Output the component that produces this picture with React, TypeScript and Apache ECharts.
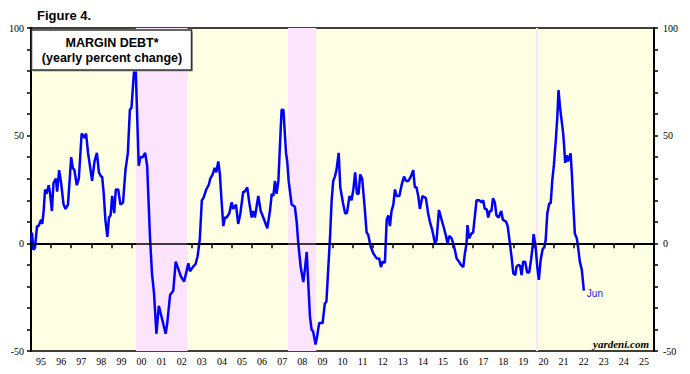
import React, { useEffect, useRef } from "react";
import * as echarts from "echarts";

// Year labels (category axis, each label centred in its year)
const yearLabels = [
  "95", "96", "97", "98", "99", "00", "01", "02", "03", "04", "05", "06", "07", "08", "09",
  "10", "11", "12", "13", "14", "15", "16", "17", "18", "19", "20", "21", "22", "23", "24", "25",
];

// Observation dates (decimal years) and yearly percent change values
const dates = [
  1995.0, 1995.05, 1995.12, 1995.2, 1995.3, 1995.38, 1995.5, 1995.56, 1995.63, 1995.7, 1995.78, 1995.88, 1995.94,
  1996.04, 1996.12, 1996.24, 1996.3, 1996.4, 1996.5, 1996.62, 1996.72, 1996.84,
  1997.0, 1997.08, 1997.16, 1997.28, 1997.38, 1997.52, 1997.6, 1997.66, 1997.74, 1997.84,
  1998.04, 1998.16, 1998.28, 1998.38, 1998.48, 1998.54, 1998.62, 1998.7, 1998.8, 1998.88, 1998.96,
  1999.04, 1999.14, 1999.22, 1999.34, 1999.45, 1999.58, 1999.7, 1999.82, 1999.92,
  2000.0, 2000.12, 2000.2, 2000.36, 2000.44, 2000.56, 2000.68, 2000.78, 2000.92,
  2001.02, 2001.12, 2001.24, 2001.36, 2001.52, 2001.7, 2001.78, 2001.92,
  2002.08, 2002.2, 2002.32, 2002.46, 2002.62, 2002.83, 2002.91,
  2003.07, 2003.19, 2003.29, 2003.4, 2003.5, 2003.58, 2003.72, 2003.84, 2003.92,
  2004.04, 2004.14, 2004.22, 2004.32, 2004.4, 2004.48, 2004.57, 2004.65, 2004.74, 2004.87, 2004.98,
  2005.06, 2005.2, 2005.31, 2005.42, 2005.56, 2005.64, 2005.76, 2005.86, 2005.98,
  2006.06, 2006.14, 2006.31, 2006.43, 2006.56, 2006.76, 2006.89, 2006.98,
  2007.06, 2007.14, 2007.22, 2007.31, 2007.39, 2007.47, 2007.56, 2007.69, 2007.75, 2007.82, 2007.97,
  2008.13, 2008.22, 2008.3, 2008.42, 2008.55, 2008.63, 2008.72, 2008.8, 2008.88, 2008.96,
  2009.04, 2009.16, 2009.24, 2009.34, 2009.51, 2009.62, 2009.7, 2009.79, 2009.88, 2009.96,
  2010.04, 2010.12, 2010.2, 2010.31, 2010.39, 2010.52, 2010.63, 2010.72, 2010.85, 2010.95,
  2011.04, 2011.13, 2011.22, 2011.3, 2011.38, 2011.48, 2011.6, 2011.7, 2011.78, 2011.9,
  2012.03, 2012.2, 2012.33, 2012.41, 2012.5, 2012.61, 2012.7, 2012.78, 2012.86, 2012.94,
  2013.03, 2013.11, 2013.19, 2013.33, 2013.44, 2013.56, 2013.66, 2013.78, 2013.9,
  2014.02, 2014.1, 2014.18, 2014.27, 2014.35, 2014.48, 2014.65, 2014.76, 2014.85, 2014.97,
  2015.1, 2015.18, 2015.3, 2015.43, 2015.55, 2015.65, 2015.73, 2015.81, 2015.93,
  2016.01, 2016.09, 2016.18, 2016.3, 2016.39, 2016.51, 2016.59, 2016.67, 2016.72, 2016.8, 2016.92,
  2017.0, 2017.09, 2017.17, 2017.3, 2017.42, 2017.5, 2017.58, 2017.67, 2017.75, 2017.83, 2017.91, 2017.99,
  2018.08, 2018.16, 2018.27, 2018.4, 2018.48, 2018.64, 2018.72, 2018.83, 2018.92,
  2019.0, 2019.1, 2019.16, 2019.26, 2019.34, 2019.41, 2019.49, 2019.59, 2019.69, 2019.79, 2019.88, 2019.96,
  2020.01, 2020.11, 2020.19, 2020.27, 2020.36, 2020.46, 2020.54, 2020.61, 2020.69, 2020.79, 2020.86, 2020.94,
  2021.02, 2021.12, 2021.19, 2021.25, 2021.32, 2021.4, 2021.48, 2021.53, 2021.58, 2021.65, 2021.72, 2021.78,
  2021.85, 2021.92, 2021.98, 2022.06, 2022.16, 2022.23, 2022.31, 2022.41, 2022.51,
];

const values = [
  1, 5, -3, -2, 8, 8, 11, 9, 15, 25, 23, 27, 24,
  15, 28, 30, 24, 34, 28, 18, 16, 18,
  40, 35, 34, 27, 30, 51, 50, 49, 51, 42,
  29, 38, 42, 33, 31, 31, 23, 11, 3, 12, 13,
  22, 14, 25, 25, 18, 19, 34, 42, 62,
  63, 79, 84, 36, 40, 40, 42, 36, 3,
  -14, -23, -42, -29, -35, -42, -37, -24,
  -22, -8.5, -11.6, -15.4, -17.7, -9.3, -13,
  -10.8, -9.6, -6, 2, 20, 21, 25, 27, 30,
  32, 35, 33, 38, 32, 20, 8, 12, 12, 14, 19,
  16, 18, 9, 14, 24, 24, 26, 19, 12,
  15, 12, 22, 15, 12, 7, 15, 23,
  22, 29, 23, 29, 46, 62, 62, 42, 38, 29, 18,
  17, 10, 0, -11, -18, -12, -4, -19, -34, -40,
  -41, -47, -43, -37, -37, -28, -27, -12, 3, 20,
  29, 31, 34, 42, 26, 19, 14, 14, 22, 20,
  25, 33, 23, 23, 32, 30, 17, 5, 4, -1.5,
  -4.6, -7, -7, -11, -8.5, -9, 11, 13, 8, 15,
  18, 25, 22, 22, 27, 31, 29, 29, 31,
  34, 26, 26, 22, 16, 22, 21, 14, 10, 6,
  0, 1.5, 15.5, 11, 7, 3.4, -0.3, 3.4, 2.3,
  0, -3, -7, -8.5, -10, -11, -4.6, -0.3, 8.5, 2.3, 4.6,
  5, 13, 20, 20, 19, 20, 16, 16, 12, 15, 15, 21,
  19, 13, 12, 15, 11, 10, 8, 0, -7,
  -14, -14.7, -10.8, -10, -10.5, -14.7, -8.5, -8.5, -13.6, -13.5, -7.7, -1.5,
  4.3, -1.5, -10.8, -17, -7.7, -2.6, -1.9, 1.5, 13.9, 18.6, 18.6, 29.4,
  36.4, 48.8, 58.8, 71.2, 63.5, 57.3, 51.1, 45, 37.4, 40.9, 38, 40,
  41.8, 30.9, 18.6, 4.6, 2.3, -2.3, -8.5, -12.4, -22,
];

// Shaded periods (decimal years)
const shadedPeriods = [
  [2000.22, 2002.79],
  [2007.79, 2009.19],
  [2020.13, 2020.23],
];

const yLabels = [100, 50, 0, -50];
const lastLabel = "Jun";

export default function App() {
  const ref = useRef<HTMLDivElement>(null);

  useEffect(() => {
    if (!ref.current) return;
    const chart = echarts.init(ref.current, null, { renderer: "svg" });
    const serif = "'Liberation Serif', 'DejaVu Serif', serif";
    const sans = "'Liberation Sans', Arial, sans-serif";
    const yAxisCommon = {
      type: "value",
      min: -50,
      max: 100,
      interval: 10,
      axisLine: { show: true, lineStyle: { color: "#000", width: 2 } },
      axisTick: { show: true, inside: false, length: 4, lineStyle: { color: "#000", width: 1.5 } },
      splitLine: { show: false },
      axisLabel: {
        color: "#000",
        fontFamily: serif,
        fontSize: 10,
        formatter: (v: number) => (yLabels.indexOf(v) >= 0 ? String(v) : ""),
      },
    };
    const option: any = {
      animation: false,
      backgroundColor: "#fff",
      grid: {
        left: 31,
        right: 36,
        top: 28,
        bottom: 23,
        show: true,
        backgroundColor: "#FEFEE3",
        borderColor: "#000",
        borderWidth: 1.5,
      },
      xAxis: [
        {
          type: "category",
          data: yearLabels,
          boundaryGap: true,
          position: "bottom",
          axisLine: { show: true, lineStyle: { color: "#000", width: 2 } },
          axisTick: { show: true, inside: false, length: 5, interval: 0, lineStyle: { color: "#000", width: 1.5 } },
          axisLabel: { color: "#000", fontFamily: serif, fontSize: 10, margin: 5, interval: 0 },
          splitLine: { show: false },
        },
        {
          type: "value",
          min: 1995,
          max: 2026,
          show: false,
        },
      ],
      yAxis: [
        { ...yAxisCommon, position: "left", axisLabel: { ...yAxisCommon.axisLabel, margin: 7 } },
        { ...yAxisCommon, position: "right", axisLabel: { ...yAxisCommon.axisLabel, margin: 9 } },
      ],
      series: [
        {
          type: "line",
          xAxisIndex: 1,
          yAxisIndex: 0,
          data: dates.map((d, i) => [d, values[i]]),
          showSymbol: false,
          symbol: "none",
          lineStyle: { color: "#0000FF", width: 2.5 },
          z: 3,
          endLabel: {
            show: true,
            formatter: lastLabel,
            color: "#2222EE",
            fontFamily: sans,
            fontSize: 10,
            distance: 3,
            offset: [0, 3],
          },
          markArea: {
            silent: true,
            itemStyle: { color: "#FCE4FC" },
            data: shadedPeriods.map((p) => [{ xAxis: p[0] }, { xAxis: p[1] }]),
          },
          markLine: {
            silent: true,
            symbol: "none",
            label: { show: false },
            lineStyle: { color: "#000", width: 1.5, type: "solid" },
            data: [{ yAxis: 0 }],
          },
        },
      ],
      graphic: [
        {
          type: "text",
          left: 37,
          top: 9,
          z: 100,
          style: { text: "Figure 4.", fontFamily: sans, fontWeight: "bold", fontSize: 13, fill: "#000" },
        },
        {
          type: "rect",
          shape: { x: 33, y: 31.5, width: 160, height: 40 },
          z: 99,
          style: { fill: "#aaa" },
        },
        {
          type: "rect",
          shape: { x: 31.5, y: 30, width: 160, height: 40 },
          z: 100,
          style: { fill: "#fff", stroke: "#333", lineWidth: 1.5 },
        },
        {
          type: "text",
          x: 112,
          y: 36,
          z: 101,
          style: {
            text: "MARGIN DEBT*\n(yearly percent change)",
            fontFamily: sans,
            fontWeight: "bold",
            fontSize: 12.5,
            lineHeight: 14.5,
            fill: "#000",
            align: "center",
            verticalAlign: "top",
          },
        },
        {
          type: "text",
          x: 649,
          y: 344,
          z: 100,
          style: {
            text: "yardeni.com",
            fontFamily: serif,
            fontWeight: "bold",
            fontStyle: "italic",
            fontSize: 11,
            fill: "#000",
            align: "right",
            verticalAlign: "middle",
          },
        },
      ],
    };
    chart.setOption(option);
    return () => chart.dispose();
  }, []);

  return (
    <div
      ref={ref}
      style={{ position: "fixed", left: 0, top: 0, width: 690, height: 374, background: "#fff" }}
    />
  );
}
